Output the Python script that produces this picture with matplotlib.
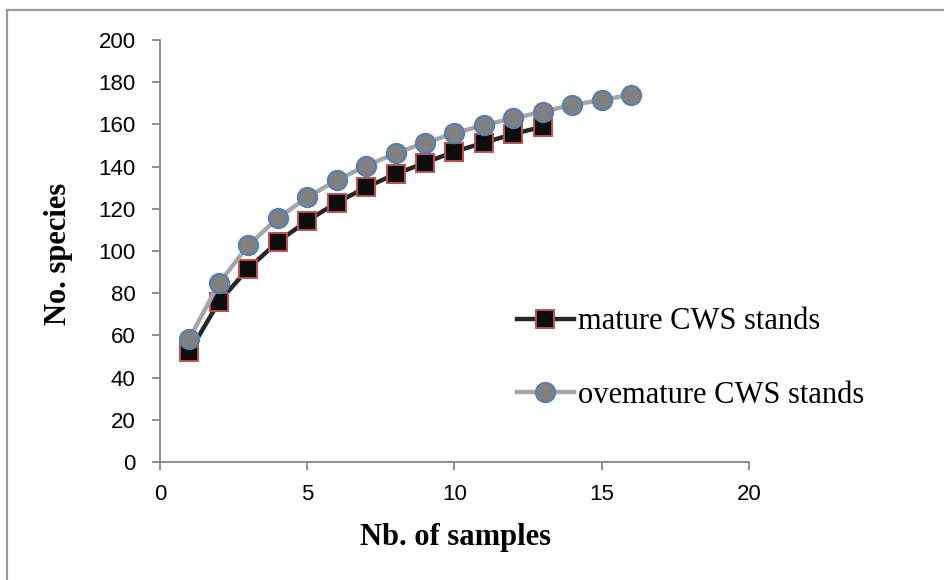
import matplotlib
matplotlib.use("Agg")
import matplotlib.pyplot as plt
from matplotlib.lines import Line2D

samples_mature = [1, 2, 3, 4, 5, 6, 7, 8, 9, 10, 11, 12, 13]
species_mature = [52.2, 75.9, 91.7, 104.4, 114.3, 122.9, 130.2, 136.5, 141.8, 147.1, 151.3, 155.5, 158.9]
samples_over = [1, 2, 3, 4, 5, 6, 7, 8, 9, 10, 11, 12, 13, 14, 15, 16]
species_over = [58.5, 84.6, 102.8, 115.5, 125.4, 133.6, 140.3, 146.3, 151.3, 155.8, 159.7, 162.9, 166.0, 169.2, 171.6, 174.0]
label_mature = "mature CWS stands"
label_over = "ovemature CWS stands"
x_ticks = [0, 5, 10, 15, 20]
y_ticks = list(range(0, 201, 20))

W, H = 945, 580
fig = plt.figure(figsize=(W / 100, H / 100), dpi=100)
ax = fig.add_axes([160 / W, 1 - 462 / H, (749 - 160) / W, (462 - 40) / H])

# outer chart-area frame (only top and left visible)
fig.add_artist(Line2D([7 / W, 7 / W], [0, 1 - 10 / H], transform=fig.transFigure,
                      color="#9a9a9a", lw=1.6))
fig.add_artist(Line2D([7 / W, 1], [1 - 10 / H, 1 - 10 / H], transform=fig.transFigure,
                      color="#9a9a9a", lw=1.6))

ax.plot(samples_mature, species_mature, color="#262626", lw=3.2, marker="s",
        markersize=13.5, markerfacecolor="#0d0d0d", markeredgecolor="#c0504d",
        markeredgewidth=1.4, label=label_mature, zorder=3)
ax.plot(samples_over, species_over, color="#a6a6a6", lw=3.2, marker="o",
        markersize=14, markerfacecolor="#808080", markeredgecolor="#4f81bd",
        markeredgewidth=1.4, label=label_over, zorder=4)

ax.set_xlim(0, 20)
ax.set_ylim(0, 200)
ax.set_xticks(x_ticks)
ax.set_yticks(y_ticks)
for s in ["top", "right"]:
    ax.spines[s].set_visible(False)
for s in ["left", "bottom"]:
    ax.spines[s].set_color("#868686")
    ax.spines[s].set_linewidth(1.3)
ax.tick_params(axis="both", colors="#868686", length=5.5, width=1.3, labelcolor="black",
               labelsize=16)
for lab in ax.get_xticklabels() + ax.get_yticklabels():
    lab.set_fontfamily("Liberation Sans")
ax.tick_params(axis="x", pad=10.5)
ax.tick_params(axis="y", pad=12)

ax.set_xlabel("Nb. of samples", fontfamily="Liberation Serif", fontweight="bold",
              fontsize=22)
ax.set_ylabel("No. species", fontfamily="Liberation Serif", fontweight="bold",
              fontsize=22)
ax.xaxis.label.set_va("center")
ax.xaxis.set_label_coords(0.502, (462 - 538) / 422)
ax.yaxis.label.set_va("center")
ax.yaxis.set_label_coords((59 - 160) / 589, (462 - 254) / 422)

leg = fig.legend(loc="center left", bbox_to_anchor=(517 / W, 1 - 358.5 / H), frameon=False,
                 prop={"family": "Liberation Serif", "size": 22}, handlelength=1.85,
                 handletextpad=0.15, labelspacing=1.45, borderaxespad=0, borderpad=0)

fig.savefig("out.png", dpi=100)
